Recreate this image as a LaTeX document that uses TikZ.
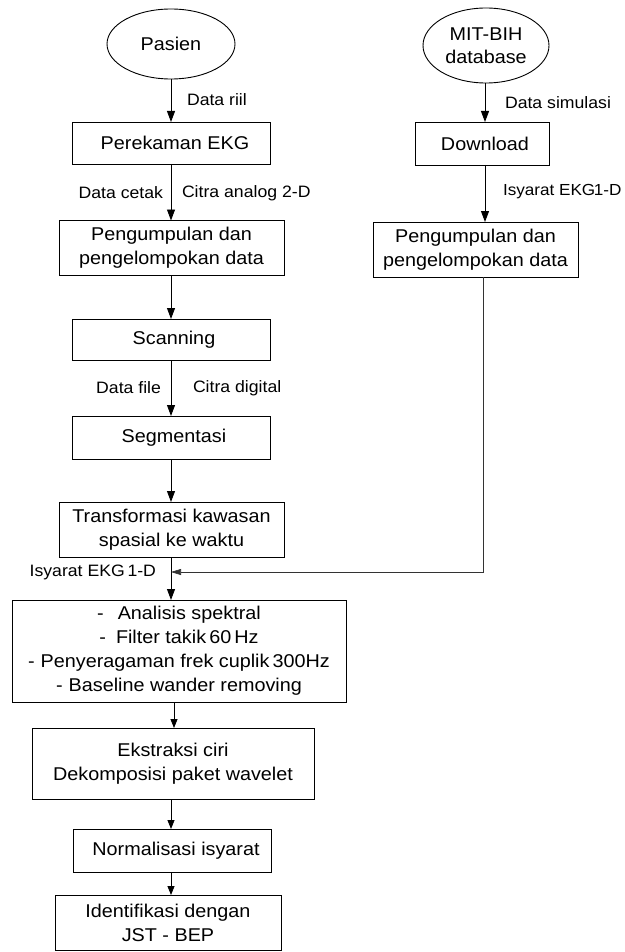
\documentclass[tikz,border=0pt]{standalone}
\usepackage{fontspec}
\setmainfont{Liberation Sans}[FakeStretch=1.07]
\usetikzlibrary{shapes.geometric,arrows.meta}
\begin{document}
\begin{tikzpicture}[x=1pt,y=-1pt,
  every node/.style={inner sep=0pt,outer sep=0pt},
  box/.style={draw,line width=0.9pt,rectangle,align=center,
    font=\fontsize{18.5}{24}\selectfont},
  oval/.style={draw,line width=0.9pt,ellipse,align=center,
    font=\fontsize{18.5}{23}\selectfont},
  lbl/.style={font=\fontsize{16.5}{19}\selectfont},
  flow/.style={line width=0.9pt,-{Triangle[length=11pt,width=8pt]}},
  flowsmall/.style={line width=0.8pt,-{Triangle[length=9pt,width=7pt]}},
  feed/.style={line width=0.6pt,draw=black!80,-{Triangle[length=10pt,width=6pt]}}]
\useasboundingbox (0,0) rectangle (624,952);

% left column: real patient data
\node[oval,minimum width=128pt,minimum height=70pt] (pasien) at (171,44) {Pasien};
\node[box,minimum width=198pt,minimum height=42pt] (rekam) at (171,143) {\hspace{8pt}Perekaman EKG};
\node[box,minimum width=225pt,minimum height=55pt] (kumpul1) at (171.5,248) {Pengumpulan dan\\pengelompokan data};
\node[box,minimum width=198pt,minimum height=41pt] (scan) at (171,339.5) {\hspace{6pt}Scanning};
\node[box,minimum width=198pt,minimum height=43pt] (seg) at (171,437.5) {\hspace{6pt}Segmentasi};
\node[box,minimum width=225pt,minimum height=55pt] (trans) at (171.5,529.5) {Transformasi kawasan\\spasial ke waktu};

% common processing chain
\node[box,minimum width=334pt,minimum height=102pt] (filter) at (179,651)
  {-\hspace{14pt}Analisis spektral\\
   -\hspace{10pt}Filter takik\,60\,Hz\\
   -\hspace{6pt}Penyeragaman frek cuplik\,300Hz\\
   -\hspace{6pt}Baseline wander removing};
\node[box,minimum width=282pt,minimum height=71pt] (ciri) at (173,763.5) {Ekstraksi ciri\\Dekomposisi paket wavelet};
\node[box,minimum width=198pt,minimum height=43pt] (norm) at (172,850.5) {\hspace{8pt}Normalisasi isyarat};
\node[box,minimum width=226pt,minimum height=55pt] (ident) at (168,922.5) {Identifikasi dengan\\JST - BEP};

% right column: simulated data
\node[oval,minimum width=126pt,minimum height=75pt] (mit) at (486,45.5) {MIT-BIH\\database};
\node[box,minimum width=134pt,minimum height=43pt] (down) at (482,143.5) {\hspace{6pt}Download};
\node[box,minimum width=205pt,minimum height=55pt] (kumpul2) at (475.5,249.5) {Pengumpulan dan\\pengelompokan data};

% connectors, left column
\draw[flow] (pasien.south) -- (rekam.north);
\draw[flow] (rekam.south) -- (rekam.south |- kumpul1.north);
\draw[flow] (rekam.south |- kumpul1.south) -- (scan.north);
\draw[flow] (scan.south) -- (seg.north);
\draw[flow] (seg.south) -- (seg.south |- trans.north);
\draw[flow] (seg.south |- trans.south) -- (seg.south |- filter.north);
\coordinate (fa) at (174,702);
\draw[flowsmall] (fa) -- (fa |- ciri.north);
\coordinate (ca) at (171,799);
\draw[flowsmall] (ca) -- (ca |- norm.north);
\coordinate (na) at (171,872);
\draw[flowsmall] (na) -- (na |- ident.north);

% connectors, right column
\coordinate (ra) at (485,83);
\draw[flow] (ra) -- (ra |- down.north);
\draw[flow] (ra |- down.south) -- (ra |- kumpul2.north);
\coordinate (rb) at (483,277);
\coordinate (join) at (483,572);
\coordinate (merge) at (171,572);
\draw[feed] (rb) -- (join) -- (merge);

% connector labels
\node[lbl,anchor=west] (l1) at (187,100) {Data riil};
\node[lbl,anchor=east] (l2) at (163,193) {Data cetak};
\node[lbl,anchor=west] (l3) at (182,193) {Citra analog 2-D};
\node[lbl,anchor=east] (l4) at (161,388) {Data file};
\node[lbl,anchor=west] (l5) at (193,388) {Citra digital};
\node[lbl,anchor=east] (l6) at (156,572) {Isyarat EKG\,1-D};
\node[lbl,anchor=west] (l7) at (505,103) {Data simulasi};
\node[lbl,anchor=west,font=\fontsize{16}{19}\selectfont] (l8) at (503,192) {Isyarat EKG\kern-1.5pt1-D};
\end{tikzpicture}
\end{document}
